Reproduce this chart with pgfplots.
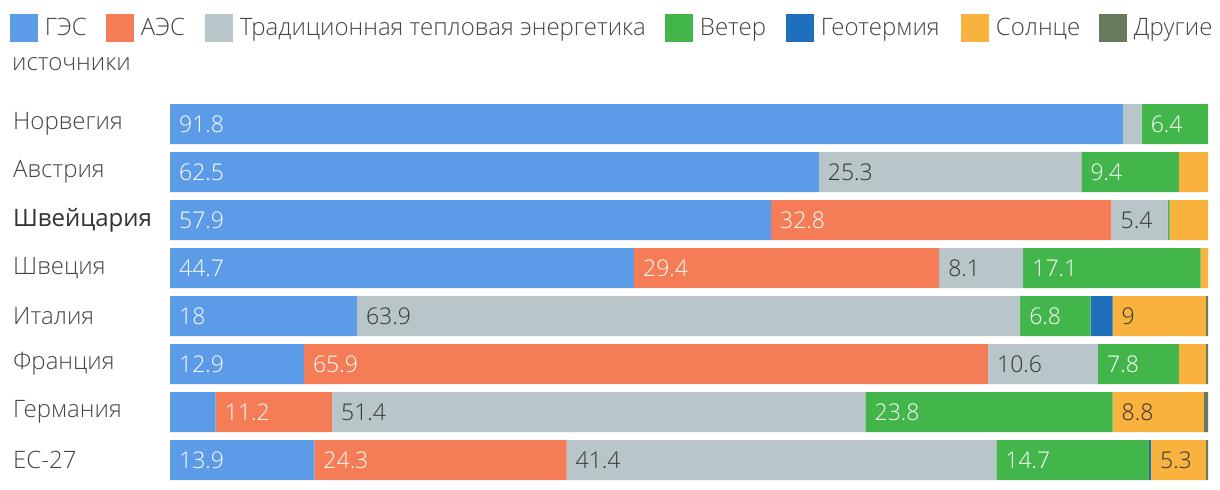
\documentclass[border=0pt]{standalone}
\usepackage{pgfplots}
\pgfplotsset{compat=1.18}
\usepackage{fontspec}
\setmainfont{Open Sans Light}
\newfontfamily\regfont{Open Sans}

\definecolor{ges}{HTML}{5B9BE7}
\definecolor{aes}{HTML}{F47C57}
\definecolor{teplo}{HTML}{B8C5C9}
\definecolor{veter}{HTML}{43B64B}
\definecolor{geo}{HTML}{1F70BA}
\definecolor{solnce}{HTML}{F8B23D}
\definecolor{drugie}{HTML}{677A5C}
\definecolor{txt}{HTML}{444444}
\definecolor{darktxt}{HTML}{333333}

\pgfplotsset{
  bararea/.style={at={(170bp,6bp)}, anchor=south west,
    scale only axis, width=1038bp, height=384bp,
    xmin=0, xmax=100, ymin=-0.5, ymax=7.5, y dir=reverse},
}

\begin{document}
\begin{tikzpicture}
\path[use as bounding box] (0,0) rectangle (1220bp,490bp);
\begin{axis}[
    bararea,
    xbar stacked, bar width=40bp,
    axis line style={draw=none},
    tick style={draw=none},
    xtick=\empty,
    ytick={0,1,2,3,4,5,6,7},
    yticklabels={Норвегия, Австрия, {\regfont\color{darktxt}Швейцария}, Швеция, Италия, Франция, Германия, ЕС-27},
    yticklabel style={anchor=west, inner sep=0pt, xshift=-157bp, font=\fontsize{24bp}{28bp}\selectfont, text=txt},
    legend columns=-1,
    legend cell align=left,
    legend image code/.code={\fill[#1] (0bp,-14bp) rectangle (28bp,14bp);},
    legend style={draw=none, fill=none, inner sep=0pt, outer sep=0pt,
        at={(rel axis cs:-0.15414,1.1875)}, anchor=west,
        font=\fontsize{24bp}{28bp}\selectfont, text=txt,
        nodes={inner sep=0pt},
        /tikz/every odd column/.append style={column sep=7bp},
        /tikz/every even column/.append style={column sep=0bp}},
]
% ГЭС
\addplot[fill=ges, draw=none] coordinates {
(91.8,0) (62.5,1) (57.9,2) (44.7,3) (18,4) (12.9,5) (4.4,6) (13.9,7)};
% АЭС
\addplot[fill=aes, draw=none] coordinates {
(0,0) (0,1) (32.8,2) (29.4,3) (0,4) (65.9,5) (11.2,6) (24.3,7)};
% Традиционная тепловая энергетика
\addplot[fill=teplo, draw=none] coordinates {
(1.8,0) (25.3,1) (5.4,2) (8.1,3) (63.9,4) (10.6,5) (51.4,6) (41.4,7)};
% Ветер
\addplot[fill=veter, draw=none] coordinates {
(6.4,0) (9.4,1) (0.2,2) (17.1,3) (6.8,4) (7.8,5) (23.8,6) (14.7,7)};
% Геотермия
\addplot[fill=geo, draw=none] coordinates {
(0,0) (0,1) (0,2) (0,3) (2.1,4) (0,5) (0,6) (0.2,7)};
% Солнце
\addplot[fill=solnce, draw=none] coordinates {
(0,0) (2.8,1) (3.7,2) (0.7,3) (9,4) (2.6,5) (8.8,6) (5.3,7)};
% Другие источники
\addplot[fill=drugie, draw=none] coordinates {
(0,0) (0,1) (0,2) (0,3) (0.2,4) (0.2,5) (0.4,6) (0.2,7)};
\legend{\makebox[61bp][l]{ГЭС}, \makebox[64bp][l]{АЭС},
  \makebox[425bp][l]{Традиционная тепловая энергетика},
  \makebox[86bp][l]{Ветер}, \makebox[140bp][l]{Геотермия},
  \makebox[103bp][l]{Солнце}, Другие}
\end{axis}

% value labels, placed at the start of each segment
\begin{axis}[
    bararea, hide axis,
    point meta=explicit symbolic,
    nodes near coords={\pgfplotspointmeta},
    every node near coord/.style={anchor=west, inner sep=0pt, xshift=9bp,
        font=\fontsize{23bp}{27bp}\selectfont},
]
\addplot[only marks, mark=none, every node near coord/.append style={text=white}] coordinates {
(0,0)[91.8] (93.6,0)[6.4]
(0,1)[62.5] (87.8,1)[9.4]
(0,2)[57.9] (57.9,2)[32.8]
(0,3)[44.7] (44.7,3)[29.4] (82.2,3)[17.1]
(0,4)[18] (81.9,4)[6.8]
(0,5)[12.9] (12.9,5)[65.9] (89.4,5)[7.8]
(4.4,6)[11.2] (67.0,6)[23.8]
(0,7)[13.9] (13.9,7)[24.3] (79.6,7)[14.7]};
\addplot[only marks, mark=none, every node near coord/.append style={text=darktxt}] coordinates {
(62.5,1)[25.3]
(90.7,2)[5.4]
(74.1,3)[8.1]
(18,4)[63.9] (90.8,4)[9]
(78.8,5)[10.6]
(15.6,6)[51.4] (90.8,6)[8.8]
(38.2,7)[41.4] (94.5,7)[5.3]};
\end{axis}
\node[anchor=base west, inner sep=0pt, text=txt, font=\fontsize{24bp}{28bp}\selectfont] at (12bp,419bp) {источники};
\end{tikzpicture}
\end{document}
